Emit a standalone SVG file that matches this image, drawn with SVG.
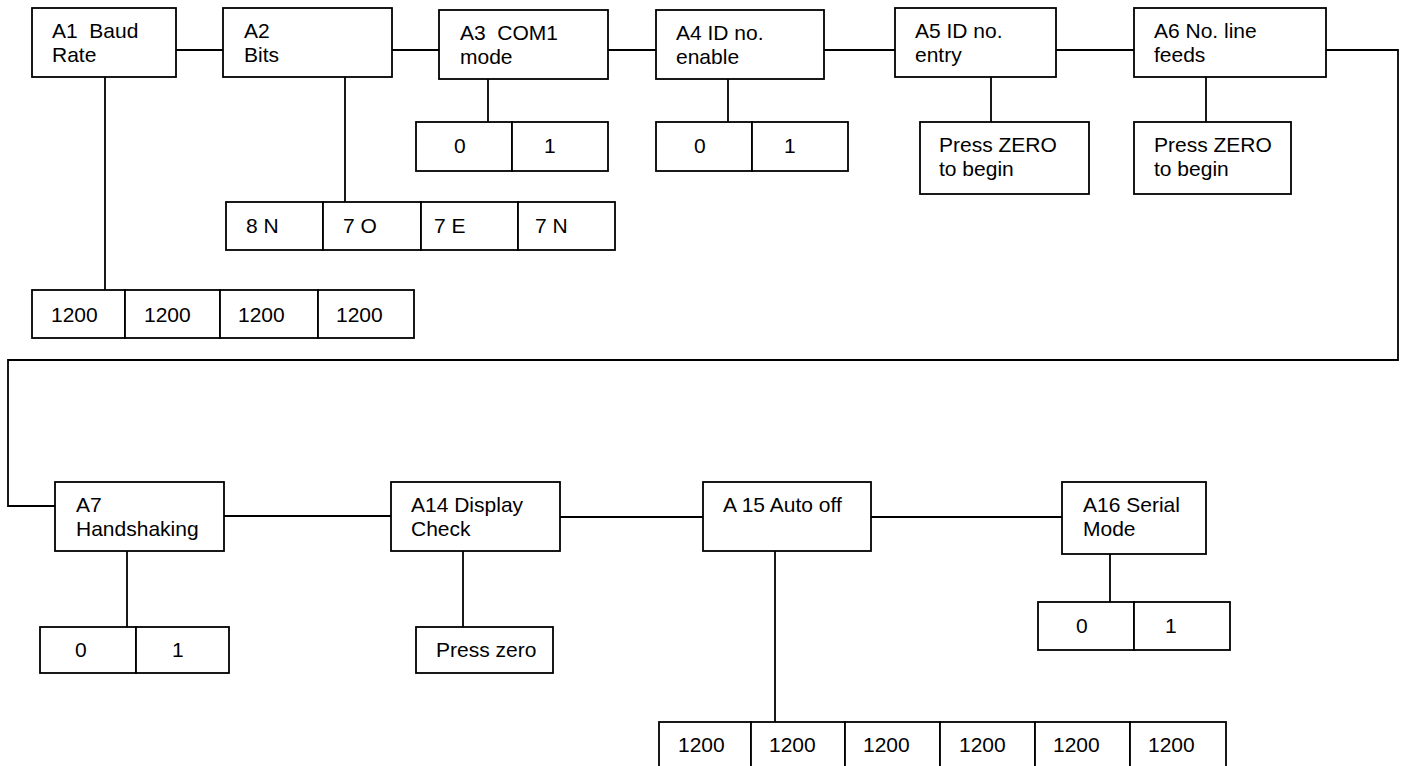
<svg xmlns="http://www.w3.org/2000/svg" width="1406" height="766" viewBox="0 0 1406 766">
<style>
rect{fill:#fff;stroke:#000;stroke-width:1.8}
line,polyline{stroke:#000;stroke-width:1.8;fill:none}
text{font-family:"Liberation Sans",Arial,sans-serif;font-size:21px;fill:#000}
</style>
<rect x="0" y="0" width="1406" height="766" style="stroke:none"/>
<g id="connectors">
<line x1="176" y1="50" x2="223" y2="50"/>
<line x1="392" y1="50" x2="439" y2="50"/>
<line x1="608" y1="50" x2="656" y2="50"/>
<line x1="824" y1="50" x2="895" y2="50"/>
<line x1="1056" y1="50" x2="1134" y2="50"/>
<polyline points="1326,50 1398,50 1398,360 8,360 8,506 55,506"/>
<line x1="105" y1="77" x2="105" y2="290"/>
<line x1="345" y1="77" x2="345" y2="202"/>
<line x1="488" y1="79" x2="488" y2="122"/>
<line x1="728" y1="79" x2="728" y2="122"/>
<line x1="991" y1="77" x2="991" y2="122"/>
<line x1="1206" y1="77" x2="1206" y2="122"/>
<line x1="224" y1="516" x2="391" y2="516"/>
<line x1="560" y1="517" x2="703" y2="517"/>
<line x1="871" y1="517" x2="1062" y2="517"/>
<line x1="127" y1="551" x2="127" y2="627"/>
<line x1="463" y1="551" x2="463" y2="627"/>
<line x1="775" y1="551" x2="775" y2="722"/>
<line x1="1110" y1="554" x2="1110" y2="602"/>
</g>
<g id="A1"><rect x="32" y="8" width="144" height="69"/><text x="52" y="38" xml:space="preserve">A1  Baud</text><text x="52" y="62">Rate</text></g>
<g id="A2"><rect x="223" y="8" width="169" height="69"/><text x="244" y="38">A2</text><text x="244" y="62">Bits</text></g>
<g id="A3"><rect x="439" y="10" width="169" height="69"/><text x="460" y="40" xml:space="preserve">A3  COM1</text><text x="460" y="64">mode</text></g>
<g id="A4"><rect x="656" y="10" width="168" height="69"/><text x="676" y="40">A4 ID no.</text><text x="676" y="64">enable</text></g>
<g id="A5"><rect x="895" y="8" width="161" height="69"/><text x="915" y="38">A5 ID no.</text><text x="915" y="62">entry</text></g>
<g id="A6"><rect x="1134" y="8" width="192" height="69"/><text x="1154" y="38">A6 No. line</text><text x="1154" y="62">feeds</text></g>
<g id="A3-opts"><rect x="416" y="122" width="96" height="49"/><rect x="512" y="122" width="96" height="49"/><text x="454" y="153">0</text><text x="544" y="153">1</text></g>
<g id="A4-opts"><rect x="656" y="122" width="96" height="49"/><rect x="752" y="122" width="96" height="49"/><text x="694" y="153">0</text><text x="784" y="153">1</text></g>
<g id="A5-opt"><rect x="920" y="122" width="169" height="72"/><text x="939" y="152">Press ZERO</text><text x="939" y="176">to begin</text></g>
<g id="A6-opt"><rect x="1134" y="122" width="157" height="72"/><text x="1154" y="152">Press ZERO</text><text x="1154" y="176">to begin</text></g>
<g id="A2-opts"><rect x="226" y="202" width="97" height="48"/><rect x="323" y="202" width="98" height="48"/><rect x="421" y="202" width="97" height="48"/><rect x="518" y="202" width="97" height="48"/><text x="246" y="233">8 N</text><text x="343" y="233">7 O</text><text x="434" y="233">7 E</text><text x="535" y="233">7 N</text></g>
<g id="A1-opts"><rect x="32" y="290" width="93" height="48"/><rect x="125" y="290" width="95" height="48"/><rect x="220" y="290" width="98" height="48"/><rect x="318" y="290" width="96" height="48"/><text x="51" y="322">1200</text><text x="144" y="322">1200</text><text x="238" y="322">1200</text><text x="336" y="322">1200</text></g>
<g id="A7"><rect x="55" y="482" width="169" height="69"/><text x="76" y="512">A7</text><text x="76" y="536">Handshaking</text></g>
<g id="A14"><rect x="391" y="482" width="169" height="69"/><text x="411" y="512">A14 Display</text><text x="411" y="536">Check</text></g>
<g id="A15"><rect x="703" y="482" width="168" height="69"/><text x="723" y="512">A 15 Auto off</text></g>
<g id="A16"><rect x="1062" y="482" width="144" height="72"/><text x="1083" y="512">A16 Serial</text><text x="1083" y="536">Mode</text></g>
<g id="A7-opts"><rect x="40" y="627" width="96" height="46"/><rect x="136" y="627" width="93" height="46"/><text x="75" y="657">0</text><text x="172" y="657">1</text></g>
<g id="A14-opt"><rect x="416" y="627" width="137" height="46"/><text x="436" y="657">Press zero</text></g>
<g id="A16-opts"><rect x="1038" y="602" width="96" height="48"/><rect x="1134" y="602" width="96" height="48"/><text x="1076" y="633">0</text><text x="1165" y="633">1</text></g>
<g id="A15-opts"><rect x="659" y="722" width="92" height="46"/><rect x="751" y="722" width="94" height="46"/><rect x="845" y="722" width="95" height="46"/><rect x="940" y="722" width="95" height="46"/><rect x="1035" y="722" width="95" height="46"/><rect x="1130" y="722" width="96" height="46"/><text x="678" y="752">1200</text><text x="769" y="752">1200</text><text x="863" y="752">1200</text><text x="959" y="752">1200</text><text x="1053" y="752">1200</text><text x="1148" y="752">1200</text></g>
</svg>
